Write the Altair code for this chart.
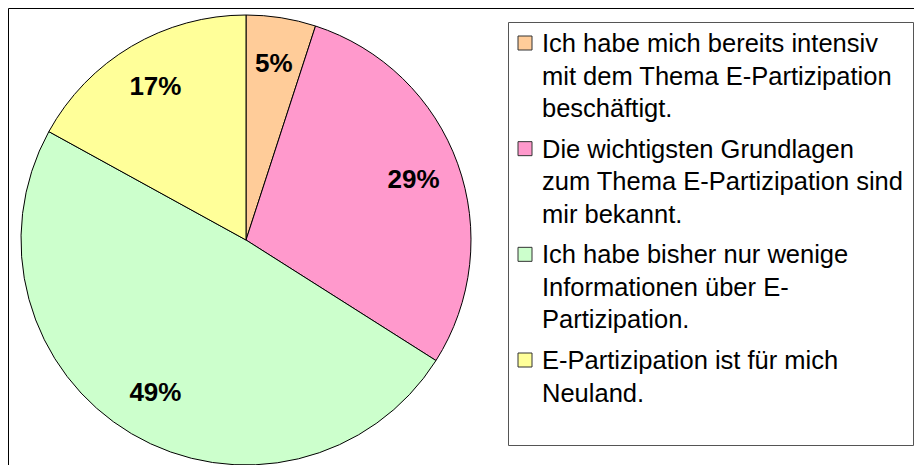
import altair as alt
import pandas as pd

# ---- data ----
categories = [
    "Ich habe mich bereits intensiv mit dem Thema E-Partizipation beschäftigt.",
    "Die wichtigsten Grundlagen zum Thema E-Partizipation sind mir bekannt.",
    "Ich habe bisher nur wenige Informationen über E-Partizipation.",
    "E-Partizipation ist für mich Neuland.",
]
legend_lines = [
    "Ich habe mich bereits intensiv\nmit dem Thema E-Partizipation\nbeschäftigt.",
    "Die wichtigsten Grundlagen\nzum Thema E-Partizipation sind\nmir bekannt.",
    "Ich habe bisher nur wenige\nInformationen über E-\nPartizipation.",
    "E-Partizipation ist für mich\nNeuland.",
]
values = [5, 29, 49, 17]
labels = ["5%", "29%", "49%", "17%"]
colors = ["#FFCC99", "#FF99CC", "#CCFFCC", "#FFFF99"]

df = pd.DataFrame({
    "cat": categories,
    "legend": legend_lines,
    "value": values,
    "label": labels,
    "idx": list(range(len(values))),
})
one = pd.DataFrame({"a": [0]})

# ---- layout ----
W, H = 906, 457
CX, CY, R = 238, 232, 225
FONT = "Liberation Sans"

base = alt.Chart(df)
color = alt.Color("cat:N", scale=alt.Scale(domain=categories, range=colors), legend=None)

outer = alt.Chart(one).mark_rect(fill="white", stroke="black", strokeWidth=1).encode(
    x=alt.value(0.5), x2=alt.value(2000), y=alt.value(0.5), y2=alt.value(2000)
)

pie = base.mark_arc(radius=R, stroke="black", strokeWidth=1).encode(
    theta=alt.Theta("value:Q", stack=True),
    order=alt.Order("idx:Q"),
    color=color,
    x=alt.value(CX),
    y=alt.value(CY),
)

pie_text = base.mark_text(radius=178, fontSize=26, fontWeight="bold", font=FONT, color="black").encode(
    theta=alt.Theta("value:Q", stack=True),
    order=alt.Order("idx:Q"),
    text="label:N",
    x=alt.value(CX),
    y=alt.value(CY),
)

legend_box = alt.Chart(one).mark_rect(fill="white", stroke="#555555", strokeWidth=1).encode(
    x=alt.value(500.5), x2=alt.value(905.5), y=alt.value(14.5), y2=alt.value(437.5)
)

yscale = alt.Scale(domain=[0, 3], range=[35, 352])

swatches = base.mark_square(size=196, stroke="#333333", strokeWidth=1, opacity=1, filled=True).encode(
    x=alt.value(517),
    y=alt.Y("idx:Q", scale=yscale, axis=None),
    color=color,
)

legend_text = base.mark_text(
    align="left", baseline="alphabetic", dy=9, fontSize=25.5, lineHeight=32.5,
    lineBreak="\n", font=FONT, color="black"
).encode(
    x=alt.value(534),
    y=alt.Y("idx:Q", scale=yscale, axis=None),
    text="legend:N",
)

chart = alt.layer(outer, pie, pie_text, legend_box, swatches, legend_text).properties(
    width=W, height=H, padding=0, autosize=alt.AutoSizeParams(type="none")
).configure_view(strokeWidth=0)

chart.save("out.html", embed_options={"renderer": "svg", "actions": False})
